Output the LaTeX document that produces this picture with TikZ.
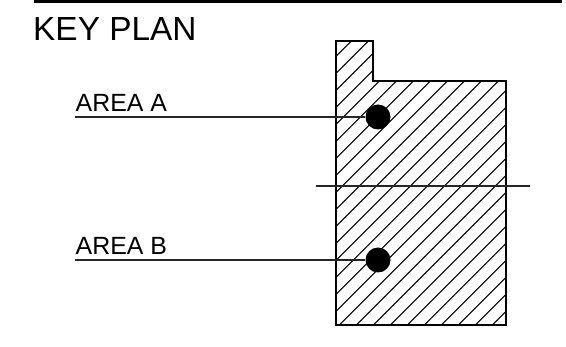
\documentclass[tikz,border=0pt]{standalone}
\usepackage{fontspec}
\setmainfont{Liberation Sans}
\tikzset{
    label/.style={inner sep=0pt,anchor=base west,font=\fontsize{24.9}{28}\selectfont},
    dot/.style={circle,fill=black,minimum size=25pt,inner sep=0pt},
    leader/.style={line width=1.2pt,black!85},
}
\begin{document}
\begin{tikzpicture}[x=1pt,y=-1pt]
    \useasboundingbox (0,0) rectangle (566,347);
    \fill (33.5,0) rectangle (562,3.4);
    % hatching of the plan
    \begin{scope}
        \clip (336,41) -- (373,41) -- (373,81) -- (506,81) -- (506,325) -- (336,325) -- cycle;
        \foreach \c in {0,...,27}
            \draw[line width=1.1pt] ({375.3+17*\c-325},325) -- ({375.3+17*\c-41},41);
    \end{scope}
    \draw[line width=1.9pt] (336,41) -- (373,41) -- (373,81) -- (506,81) -- (506,325) -- (336,325) -- cycle;
    \node[inner sep=0pt,anchor=base west,font=\fontsize{33.4}{36}\selectfont] (keyplan) at (33,40.7) {KEY PLAN};
    \node[label] (areaa) at (75.5,111.3) {AREA A};
    \node[label] (areab) at (75.5,254.2) {AREA B};
    \node[dot] (dota) at (378,117) {};
    \node[dot] (dotb) at (378,260) {};
    \coordinate (starta) at (75,117);
    \coordinate (startb) at (75,260);
    \coordinate (cutl) at (316,186);
    \coordinate (cutr) at (530,186);
    \draw[leader] (starta) -- (dota);
    \draw[leader] (startb) -- (dotb);
    \draw[leader] (cutl) -- (cutr);
\end{tikzpicture}
\end{document}
